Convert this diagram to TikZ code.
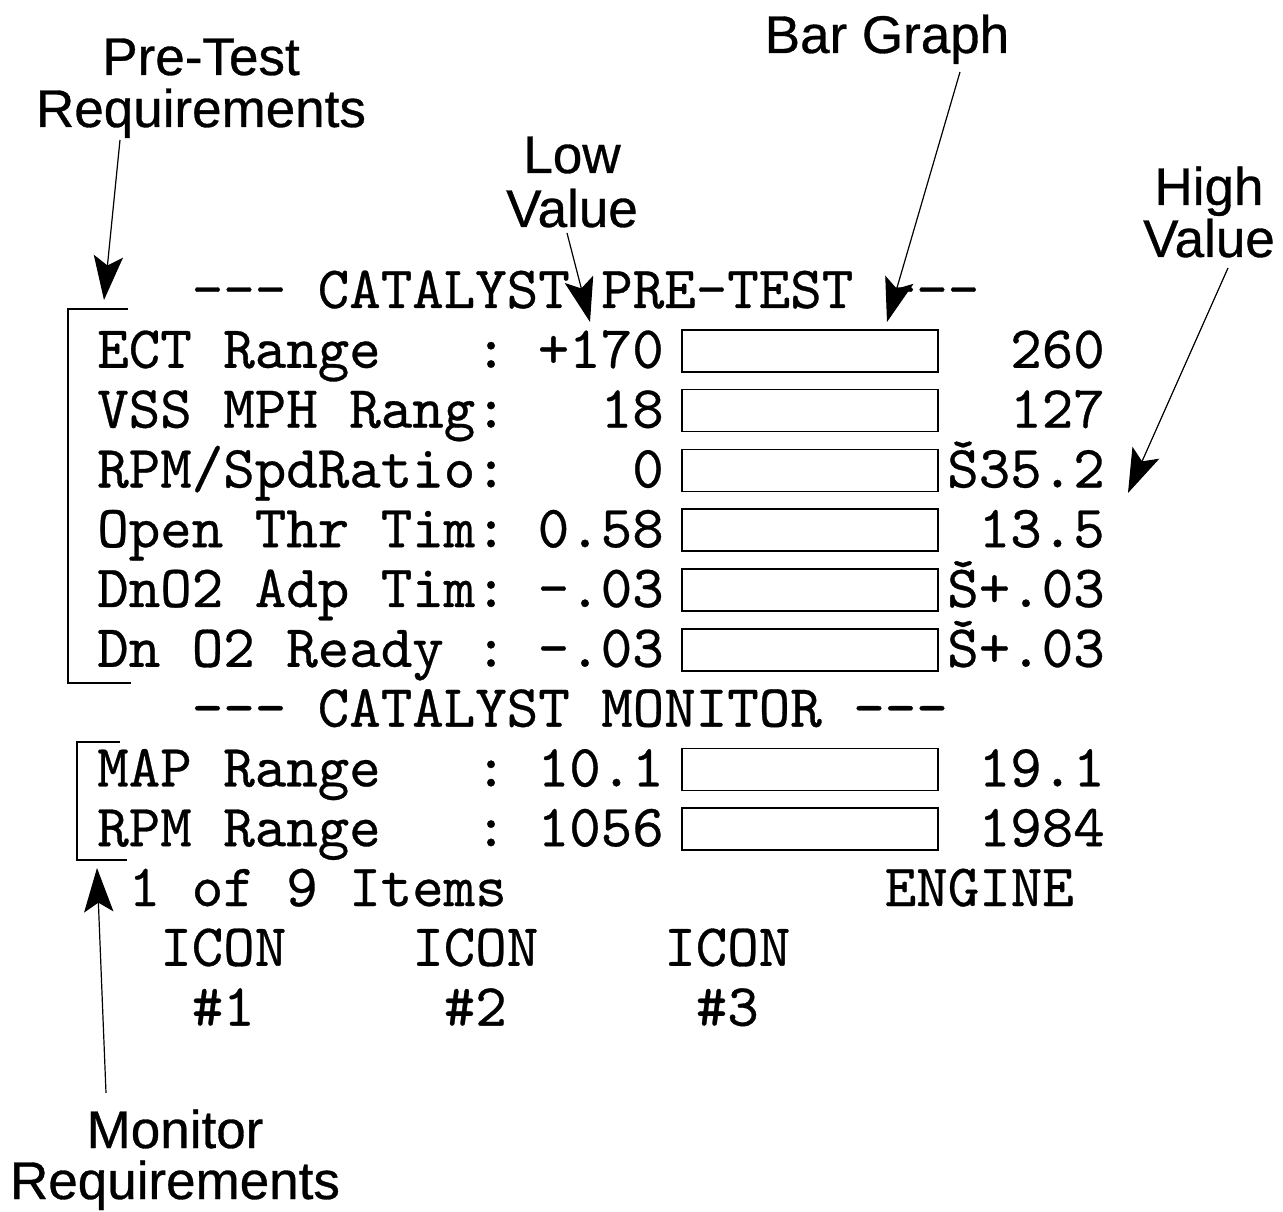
\documentclass[tikz,border=0pt]{standalone}
\usepackage{fontspec}
\setmainfont{Liberation Sans}
\newfontfamily\annfont[FakeBold=0.6]{Liberation Sans}
\newfontfamily\scrmono[FakeBold=0.5]{lmmono10-regular.otf}
\usetikzlibrary{arrows.meta}
\def\colx#1{97+31.5*#1}
\def\rowb#1{308+59.8*#1}
\tikzset{
  mono/.style={font=\scrmono\fontsize{45pt}{46pt}\selectfont, inner sep=0pt, anchor=base west},
  monor/.style={font=\scrmono\fontsize{45pt}{46pt}\selectfont, inner sep=0pt, anchor=base east},
  lbl/.style={font=\annfont\fontsize{39.75pt}{40pt}\selectfont, inner sep=0pt, anchor=base},
  barbox/.style={draw, line width=1.1pt, minimum width=192pt, minimum height=31.5pt, inner sep=0pt},
  brk/.style={line width=1.3pt},
  ann/.style={line width=0.9pt, -{Stealth[length=33pt,width=22pt,inset=7pt]}}
}
\begin{document}
\begin{tikzpicture}[x=0.75pt,y=-0.75pt]
\fill[white] (0,0) rectangle (1283,1212);
\useasboundingbox (0,0) rectangle (1283,1212);

% annotation labels
\node[lbl] (ptl1) at (201,75) {Pre-Test};
\node[lbl] (ptl2) at (201,127) {Requirements};
\node[lbl] (bgl) at (887,53) {Bar Graph};
\node[lbl] (lvl1) at (572,173) {Low};
\node[lbl] (lvl2) at (572,227) {Value};
\node[lbl] (hvl1) at (1209,205) {High};
\node[lbl] (hvl2) at (1209,257) {Value};
\node[lbl] (mrl1) at (175,1148) {Monitor};
\node[lbl] (mrl2) at (175,1199) {Requirements};

% headers
\node[mono] (hdr1) at ({\colx{3}},{\rowb{0}}) {--- CATALYST PRE-TEST ---};
\node[mono] (hdr2) at ({\colx{3}},{\rowb{7}}) {--- CATALYST MONITOR ---};

% rows: pre-test
\node[mono] (n1) at ({\colx{0}},{\rowb{1}}) {ECT Range};
\node[mono] (c1) at ({\colx{12}},{\rowb{1}}) {:};
\node[monor] (lo1) at ({\colx{18}},{\rowb{1}}) {+170};
\node[monor] (hi1) at ({\colx{32}},{\rowb{1}}) {260};

\node[mono] (n2) at ({\colx{0}},{\rowb{2}}) {VSS MPH Rang:};
\node[monor] (lo2) at ({\colx{18}},{\rowb{2}}) {18};
\node[monor] (hi2) at ({\colx{32}},{\rowb{2}}) {127};

\node[mono] (n3) at ({\colx{0}},{\rowb{3}}) {RPM/SpdRatio:};
\node[monor] (lo3) at ({\colx{18}},{\rowb{3}}) {0};
\node[monor] (hi3) at ({\colx{32}},{\rowb{3}}) {Š35.2};

\node[mono] (n4) at ({\colx{0}},{\rowb{4}}) {Open Thr Tim:};
\node[monor] (lo4) at ({\colx{18}},{\rowb{4}}) {0.58};
\node[monor] (hi4) at ({\colx{32}},{\rowb{4}}) {13.5};

\node[mono] (n5) at ({\colx{0}},{\rowb{5}}) {DnO2 Adp Tim:};
\node[monor] (lo5) at ({\colx{18}},{\rowb{5}}) {-.03};
\node[monor] (hi5) at ({\colx{32}},{\rowb{5}}) {Š+.03};

\node[mono] (n6) at ({\colx{0}},{\rowb{6}}) {Dn O2 Ready};
\node[mono] (c6) at ({\colx{12}},{\rowb{6}}) {:};
\node[monor] (lo6) at ({\colx{18}},{\rowb{6}}) {-.03};
\node[monor] (hi6) at ({\colx{32}},{\rowb{6}}) {Š+.03};

% rows: monitor
\node[mono] (n8) at ({\colx{0}},{\rowb{8}}) {MAP Range};
\node[mono] (c8) at ({\colx{12}},{\rowb{8}}) {:};
\node[monor] (lo8) at ({\colx{18}},{\rowb{8}}) {10.1};
\node[monor] (hi8) at ({\colx{32}},{\rowb{8}}) {19.1};

\node[mono] (n9) at ({\colx{0}},{\rowb{9}}) {RPM Range};
\node[mono] (c9) at ({\colx{12}},{\rowb{9}}) {:};
\node[monor] (lo9) at ({\colx{18}},{\rowb{9}}) {1056};
\node[monor] (hi9) at ({\colx{32}},{\rowb{9}}) {1984};

% footer
\node[mono] (items) at ({\colx{1}},{\rowb{10}}) {1 of 9 Items};
\node[mono] (engine) at ({\colx{25}},{\rowb{10}}) {ENGINE};
\node[mono] (ic1) at ({\colx{2}},{\rowb{11}}) {ICON};
\node[mono] (ic2) at ({\colx{10}},{\rowb{11}}) {ICON};
\node[mono] (ic3) at ({\colx{18}},{\rowb{11}}) {ICON};
\node[mono] (in1) at ({\colx{3}},{\rowb{12}}) {\#1};
\node[mono] (in2) at ({\colx{11}},{\rowb{12}}) {\#2};
\node[mono] (in3) at ({\colx{19}},{\rowb{12}}) {\#3};

% bars
\foreach \r in {1,2,3,4,5,6,8,9}{
  \node[barbox] (bar\r) at (810,{\rowb{\r}-17}) {};
}

% brackets
\draw[brk] (128,309) -- (68,309) -- (68,683) -- (131,683);
\draw[brk] (120,742) -- (77,742) -- (77,860) -- (127,860);

% arrows
\coordinate (ptS) at (120,140);
\coordinate (ptE) at (104,300);
\coordinate (lvS) at (567,233);
\coordinate (lvE) at (590,322);
\coordinate (bgS) at (960,72);
\coordinate (bgE) at (887,322);
\coordinate (hvS) at (1228,268);
\coordinate (hvE) at (1128,493);
\coordinate (mrS) at (106,1093);
\coordinate (mrE) at (97,868);
\draw[ann] (ptS) -- (ptE);
\draw[ann] (lvS) -- (lvE);
\draw[ann] (bgS) -- (bgE);
\draw[ann] (hvS) -- (hvE);
\draw[ann] (mrS) -- (mrE);
\end{tikzpicture}
\end{document}
